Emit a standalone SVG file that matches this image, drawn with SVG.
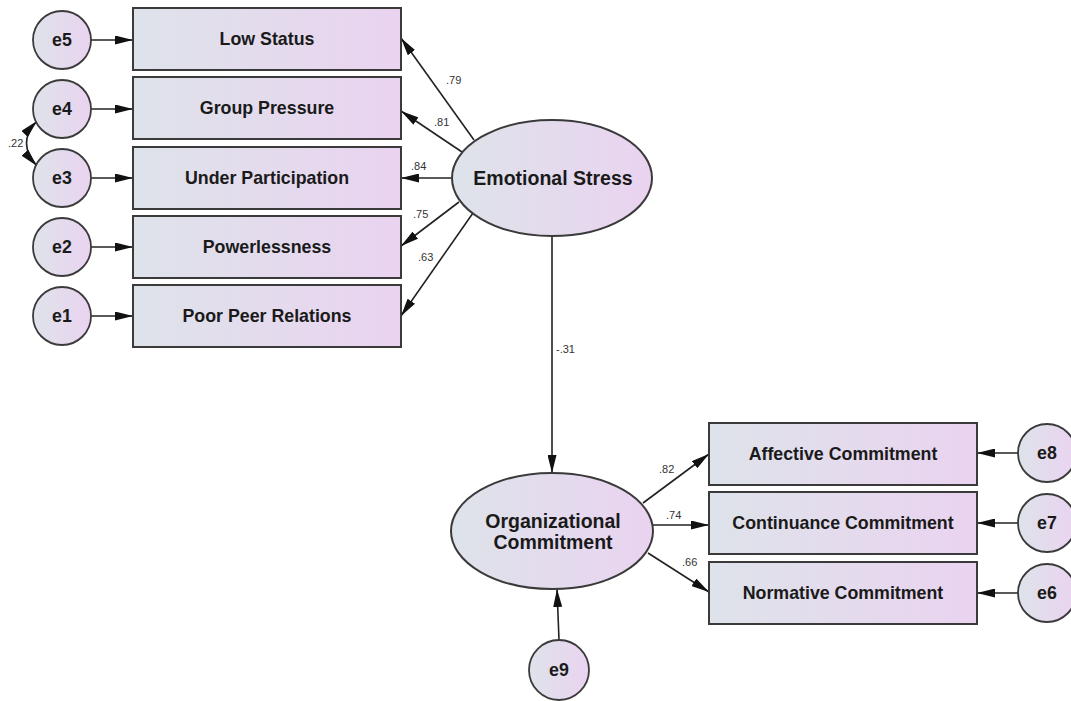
<svg xmlns="http://www.w3.org/2000/svg" width="1071" height="701" viewBox="0 0 1071 701">
  <defs>
    <linearGradient id="fill" x1="0" y1="0" x2="1" y2="0">
      <stop offset="0" stop-color="#dee3ea"/>
      <stop offset="1" stop-color="#ead3f0"/>
    </linearGradient>
    <marker id="head" viewBox="0 0 18 9" refX="18" refY="4.5" markerWidth="18" markerHeight="9" markerUnits="userSpaceOnUse" orient="auto-start-reverse">
      <path d="M0,0 L18,4.5 L0,9 z" fill="#111"/>
    </marker>
  </defs>
  <style>
    .box { fill: url(#fill); stroke: #3a3a3a; stroke-width: 2; }
    .lat { fill: url(#fill); stroke: #3a3a3a; stroke-width: 2; }
    .err { fill: url(#fill); stroke: #3a3a3a; stroke-width: 1.8; }
    .lbl { font-family: "Liberation Sans", Arial, sans-serif; font-weight: bold; font-size: 17.8px; fill: #1a1a1a; text-anchor: middle; }
    .big { font-family: "Liberation Sans", Arial, sans-serif; font-weight: bold; font-size: 19.5px; fill: #1a1a1a; text-anchor: middle; }
    .coef { font-family: "Liberation Sans", Arial, sans-serif; font-size: 11px; fill: #333; }
    .edge { stroke: #222; stroke-width: 1.6; fill: none; marker-end: url(#head); }
  </style>
  <rect width="1071" height="701" fill="#fff"/>

  <!-- paths and loadings -->
  <g id="connectors">
    <line class="edge" x1="91" y1="40" x2="133" y2="40"/>
    <line class="edge" x1="91" y1="109" x2="133" y2="109"/>
    <line class="edge" x1="91" y1="178" x2="133" y2="178"/>
    <line class="edge" x1="91" y1="247" x2="133" y2="247"/>
    <line class="edge" x1="91" y1="316" x2="133" y2="316"/>
    <path class="edge" d="M37,121 Q16,143 37,166" marker-start="url(#head)"/>

    <line class="edge" x1="474" y1="140" x2="401" y2="38"/>
    <line class="edge" x1="462" y1="152" x2="401" y2="111"/>
    <line class="edge" x1="452" y1="178" x2="401" y2="178"/>
    <line class="edge" x1="459" y1="202" x2="401" y2="246"/>
    <line class="edge" x1="473" y1="213" x2="401" y2="316"/>

    <line class="edge" x1="552" y1="236" x2="552" y2="473"/>

    <line class="edge" x1="643" y1="503" x2="709" y2="454"/>
    <line class="edge" x1="653" y1="525" x2="709" y2="525"/>
    <line class="edge" x1="648" y1="553" x2="709" y2="592"/>

    <line class="edge" x1="1018" y1="453" x2="977" y2="453"/>
    <line class="edge" x1="1018" y1="523" x2="977" y2="523"/>
    <line class="edge" x1="1018" y1="593" x2="977" y2="593"/>

    <line class="edge" x1="559" y1="640" x2="557" y2="589"/>

    <text class="coef" x="8" y="147">.22</text>
    <text class="coef" x="446" y="84">.79</text>
    <text class="coef" x="434" y="126">.81</text>
    <text class="coef" x="411" y="170">.84</text>
    <text class="coef" x="413" y="218">.75</text>
    <text class="coef" x="418" y="261">.63</text>
    <text class="coef" x="556" y="353">-.31</text>
    <text class="coef" x="659" y="473">.82</text>
    <text class="coef" x="666" y="519">.74</text>
    <text class="coef" x="682" y="566">.66</text>
  </g>

  <!-- observed indicators, left -->
  <g id="low-status"><rect class="box" x="133" y="8" width="268" height="62"/><text class="lbl" x="267" y="45">Low Status</text></g>
  <g id="group-pressure"><rect class="box" x="133" y="77" width="268" height="62"/><text class="lbl" x="267" y="114">Group Pressure</text></g>
  <g id="under-participation"><rect class="box" x="133" y="147" width="268" height="62"/><text class="lbl" x="267" y="184">Under Participation</text></g>
  <g id="powerlessness"><rect class="box" x="133" y="216" width="268" height="62"/><text class="lbl" x="267" y="253">Powerlessness</text></g>
  <g id="poor-peer-relations"><rect class="box" x="133" y="285" width="268" height="62"/><text class="lbl" x="267" y="322">Poor Peer Relations</text></g>

  <!-- error terms, left -->
  <g id="e5"><circle class="err" cx="62" cy="40" r="29"/><text class="lbl" x="62" y="46">e5</text></g>
  <g id="e4"><circle class="err" cx="62" cy="109" r="29"/><text class="lbl" x="62" y="115">e4</text></g>
  <g id="e3"><circle class="err" cx="62" cy="178" r="29"/><text class="lbl" x="62" y="184">e3</text></g>
  <g id="e2"><circle class="err" cx="62" cy="247" r="29"/><text class="lbl" x="62" y="253">e2</text></g>
  <g id="e1"><circle class="err" cx="62" cy="316" r="29"/><text class="lbl" x="62" y="322">e1</text></g>

  <!-- latent constructs -->
  <g id="emotional-stress"><ellipse class="lat" cx="552" cy="178" rx="100" ry="58"/><text class="big" x="553" y="185">Emotional Stress</text></g>
  <g id="organizational-commitment"><ellipse class="lat" cx="552" cy="531" rx="101" ry="58"/><text class="big" x="553" y="528">Organizational</text><text class="big" x="553" y="549">Commitment</text></g>

  <!-- observed indicators, right -->
  <g id="affective-commitment"><rect class="box" x="709" y="423" width="268" height="62"/><text class="lbl" x="843" y="460">Affective Commitment</text></g>
  <g id="continuance-commitment"><rect class="box" x="709" y="492" width="268" height="62"/><text class="lbl" x="843" y="529">Continuance Commitment</text></g>
  <g id="normative-commitment"><rect class="box" x="709" y="562" width="268" height="62"/><text class="lbl" x="843" y="599">Normative Commitment</text></g>

  <!-- error terms, right and bottom -->
  <g id="e8"><circle class="err" cx="1047" cy="453" r="29"/><text class="lbl" x="1047" y="459">e8</text></g>
  <g id="e7"><circle class="err" cx="1047" cy="523" r="29"/><text class="lbl" x="1047" y="529">e7</text></g>
  <g id="e6"><circle class="err" cx="1047" cy="593" r="29"/><text class="lbl" x="1047" y="599">e6</text></g>
  <g id="e9"><circle class="err" cx="559" cy="670" r="30"/><text class="lbl" x="559" y="676">e9</text></g>
</svg>
